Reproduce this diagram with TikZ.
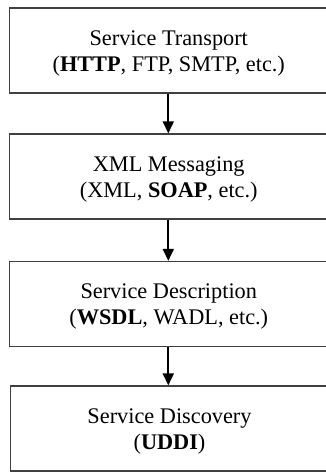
\documentclass[tikz,border=0pt]{standalone}
\usepackage{fontspec}
\setmainfont{Liberation Serif}
\usetikzlibrary{arrows.meta}
\begin{document}
\begin{tikzpicture}[x=1pt,y=-1pt,
  layerbox/.style={draw=black!75, line width=1.3pt, minimum width=318.5pt, minimum height=85pt, inner sep=0pt},
  layertext/.style={align=center, inner sep=0pt, font=\fontsize{22.3}{26}\selectfont},
  flowarrow/.style={line width=1.8pt, -{Triangle[width=11pt,length=12pt]}}]
\useasboundingbox (0,0) rectangle (326,472);
\node[layerbox] (transport) at (168.75,50.5) {};
\node[layerbox] (messaging) at (168.75,176.5) {};
\node[layerbox] (description) at (168.75,304) {};
\node[layerbox] (discovery) at (169.5,428.5) {};
\node[layertext] (transportText) at ([yshift=-2.5pt]transport.center) {Service Transport\\(\textbf{HTTP}, FTP, SMTP, etc.)};
\node[layertext] (messagingText) at ([yshift=-2.5pt]messaging.center) {XML Messaging\\(XML, \textbf{SOAP}, etc.)};
\node[layertext] (descriptionText) at ([yshift=-2pt]description.center) {Service Description\\(\textbf{WSDL}, WADL, etc.)};
\node[layertext] (discoveryText) at ([yshift=-2.5pt]discovery.center) {Service Discovery\\(\textbf{UDDI})};
\draw[flowarrow] (transport.south -| 168.3,0) -- (messaging.north -| 168.3,0);
\draw[flowarrow] (messaging.south -| 168.3,0) -- (description.north -| 168.3,0);
\draw[flowarrow] (description.south -| 168.3,0) -- (discovery.north -| 168.3,0);
\end{tikzpicture}
\end{document}
